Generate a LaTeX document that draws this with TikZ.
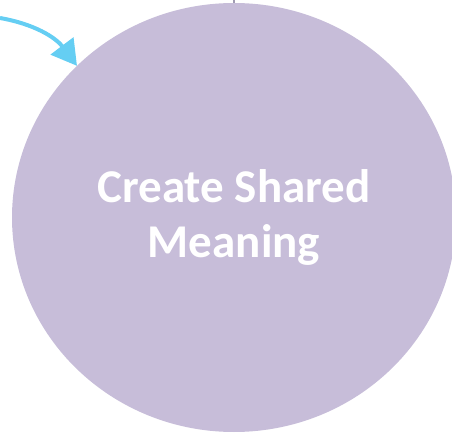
\documentclass[tikz,border=0pt]{standalone}
\usepackage{fontspec}
\setmainfont{Carlito}
\usetikzlibrary{shapes.geometric,arrows.meta}
\definecolor{bubble}{RGB}{199,189,217}
\definecolor{skyline}{RGB}{101,206,243}
\definecolor{stubgray}{RGB}{160,155,178}
\begin{document}
\begin{tikzpicture}[x=1pt,y=1pt,
  bubblenode/.style={ellipse,fill=bubble,inner sep=0pt,outer sep=0pt,
    minimum width=444pt,minimum height=429pt,text=white,align=center,
    font=\fontsize{47}{55}\selectfont\bfseries},
  flowline/.style={draw=skyline,line width=4pt,
    -{Triangle[length=25pt,width=28pt]}}]
  \useasboundingbox (0,0) rectangle (452,434);
  \clip (0,0) rectangle (452,434);
  \node[bubblenode] (meaning) at (234,216.5) {Create Shared\\Meaning};
  % loose ends coming in from outside
  \coordinate (inflow) at (0,416);
  \coordinate (upper) at (234,440);
  \draw[flowline] (inflow) to[out=-10,in=127] (meaning.136);
  \draw[stubgray,line width=2pt] (meaning.north) -- (upper);
\end{tikzpicture}
\end{document}
